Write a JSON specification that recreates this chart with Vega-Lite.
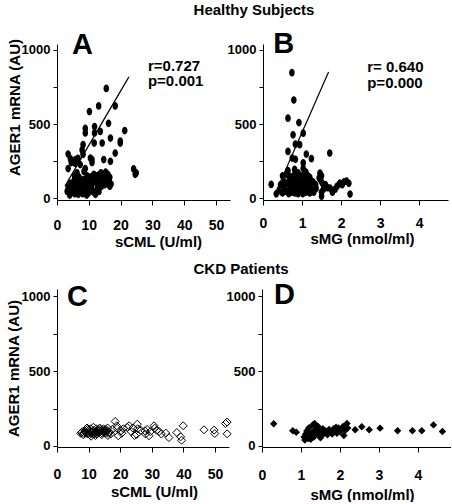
{
  "$schema": "https://vega.github.io/schema/vega-lite/v6.json",
  "padding": {"left": 6, "top": 2, "right": 0, "bottom": 0},
  "background": "white",
  "bounds": "flush",
  "spacing": 245,
  "datasets": {
    "A": [
      {"x":15.5,"y":740},{"x":13.1,"y":622},{"x":18.3,"y":622},{"x":10.2,"y":584},{"x":16.2,"y":505},{"x":8.9,"y":470},{"x":8.9,"y":440},{"x":11.8,"y":483},{"x":11.8,"y":440},{"x":13.6,"y":450},{"x":21.3,"y":456},{"x":16.8,"y":405},{"x":14.2,"y":371},{"x":19.9,"y":371},{"x":19.9,"y":385},{"x":11.7,"y":371},{"x":8.2,"y":360},{"x":7.9,"y":325},{"x":18.3,"y":304},{"x":3.5,"y":297},{"x":4.2,"y":266},{"x":5.8,"y":260},{"x":11.0,"y":260},{"x":14.7,"y":260},{"x":16.8,"y":248},{"x":7.3,"y":226},{"x":3.5,"y":199},{"x":8.9,"y":199},{"x":24.1,"y":197},{"x":24.9,"y":170},{"x":24.6,"y":160},{"x":10.5,"y":270},{"x":11.0,"y":240},{"x":4.5,"y":240},{"x":6.6,"y":268},{"x":5.7,"y":235},{"x":8.2,"y":295},
      {"x":3.2,"y":45},{"x":3.8,"y":60},{"x":4.3,"y":35},{"x":4.8,"y":70},{"x":5.2,"y":50},{"x":5.6,"y":30},{"x":6.0,"y":65},{"x":6.4,"y":45},{"x":6.9,"y":75},{"x":7.3,"y":40},{"x":7.7,"y":55},{"x":8.1,"y":30},{"x":8.6,"y":65},{"x":9.0,"y":45},{"x":9.5,"y":70},{"x":9.9,"y":35},{"x":10.4,"y":55},{"x":10.9,"y":75},{"x":11.5,"y":40},{"x":12.1,"y":25},{"x":12.6,"y":60},{"x":13.2,"y":45},{"x":3.5,"y":75},{"x":5.0,"y":85},{"x":8.3,"y":85},{"x":4.0,"y":20},{"x":6.7,"y":25},{"x":9.3,"y":20},{"x":7.0,"y":60},{"x":10.0,"y":60},
      {"x":4.2,"y":100},{"x":5.3,"y":115},{"x":6.2,"y":95},{"x":6.8,"y":120},{"x":7.5,"y":105},{"x":8.4,"y":125},{"x":9.2,"y":100},{"x":9.8,"y":115},{"x":10.6,"y":95},{"x":11.2,"y":120},{"x":11.9,"y":110},{"x":12.5,"y":130},{"x":13.3,"y":100},{"x":13.9,"y":125},{"x":14.6,"y":110},{"x":15.2,"y":130},{"x":15.8,"y":100},{"x":16.4,"y":120},{"x":17.0,"y":95},{"x":16.6,"y":80},{"x":14.0,"y":80},{"x":12.9,"y":85},{"x":15.0,"y":90},
      {"x":5.5,"y":150},{"x":6.3,"y":170},{"x":7.0,"y":140},{"x":9.5,"y":150},{"x":10.8,"y":145},{"x":11.6,"y":160},{"x":12.3,"y":150},{"x":13.1,"y":155},{"x":13.8,"y":170},{"x":14.5,"y":150},{"x":15.3,"y":175},{"x":16.0,"y":160},{"x":16.6,"y":140},{"x":8.5,"y":180}
    ],
    "B": [
      {"x":0.74,"y":846},{"x":0.79,"y":662},{"x":0.64,"y":539},{"x":0.92,"y":510},{"x":1.03,"y":438},{"x":0.77,"y":427},{"x":0.83,"y":364},{"x":0.94,"y":360},{"x":0.64,"y":315},{"x":1.11,"y":297},{"x":1.24,"y":266},{"x":1.71,"y":304},{"x":0.75,"y":270},{"x":0.83,"y":262},{"x":1.03,"y":237},{"x":0.81,"y":193},{"x":0.64,"y":186},{"x":1.03,"y":200},{"x":0.21,"y":92},{"x":0.34,"y":29},{"x":1.44,"y":136},{"x":1.46,"y":168},{"x":1.0,"y":150},{"x":0.9,"y":170},{"x":1.1,"y":175},
      {"x":0.42,"y":50},{"x":0.5,"y":35},{"x":0.55,"y":70},{"x":0.6,"y":45},{"x":0.66,"y":30},{"x":0.7,"y":60},{"x":0.74,"y":40},{"x":0.78,"y":75},{"x":0.82,"y":35},{"x":0.86,"y":55},{"x":0.9,"y":30},{"x":0.94,"y":65},{"x":0.98,"y":45},{"x":1.02,"y":30},{"x":1.06,"y":60},{"x":1.1,"y":40},{"x":1.15,"y":70},{"x":1.2,"y":35},{"x":1.25,"y":55},{"x":1.3,"y":40},{"x":1.36,"y":65},
      {"x":0.45,"y":90},{"x":0.55,"y":110},{"x":0.62,"y":95},{"x":0.68,"y":125},{"x":0.72,"y":100},{"x":0.78,"y":115},{"x":0.84,"y":90},{"x":0.88,"y":130},{"x":0.93,"y":105},{"x":0.97,"y":120},{"x":1.0,"y":90},{"x":1.05,"y":115},{"x":1.08,"y":135},{"x":1.12,"y":100},{"x":1.17,"y":120},{"x":1.22,"y":95},{"x":1.28,"y":110},{"x":1.35,"y":90},
      {"x":0.5,"y":150},{"x":0.6,"y":160},{"x":0.7,"y":145},{"x":0.8,"y":155},{"x":1.08,"y":165},{"x":1.15,"y":150},{"x":1.2,"y":140},
      {"x":1.5,"y":13},{"x":1.5,"y":40},{"x":1.55,"y":60},{"x":1.6,"y":90},{"x":1.65,"y":70},{"x":1.72,"y":67},{"x":1.78,"y":40},{"x":1.85,"y":60},{"x":1.9,"y":80},{"x":1.97,"y":101},{"x":2.03,"y":90},{"x":2.08,"y":110},{"x":2.14,"y":114},{"x":2.2,"y":100},{"x":2.23,"y":27},{"x":1.5,"y":150},{"x":1.48,"y":120},{"x":1.52,"y":100}
    ],
    "C": [
      {"x":7.5,"y":85},{"x":8,"y":95},{"x":8.3,"y":75},{"x":8.8,"y":100},{"x":9.2,"y":85},{"x":9.6,"y":110},{"x":10,"y":90},{"x":10.3,"y":75},{"x":10.6,"y":115},{"x":11,"y":95},{"x":11.3,"y":80},{"x":11.7,"y":105},{"x":12,"y":90},{"x":12.4,"y":115},{"x":12.7,"y":80},{"x":13,"y":100},{"x":13.4,"y":90},{"x":13.8,"y":110},{"x":14.1,"y":75},{"x":14.5,"y":95},{"x":14.9,"y":105},{"x":15.3,"y":85},{"x":15.7,"y":100},{"x":16.1,"y":70},{"x":16.5,"y":95},{"x":17,"y":80},{"x":9.5,"y":120},{"x":11.5,"y":125},{"x":13.5,"y":120},{"x":10.8,"y":65},{"x":12.2,"y":70},
      {"x":7.8,"y":90},{"x":8.5,"y":85},{"x":9,"y":95},{"x":9.8,"y":80},{"x":10.1,"y":105},{"x":10.9,"y":85},{"x":11.4,"y":95},{"x":11.9,"y":80},{"x":12.3,"y":100},{"x":12.9,"y":90},{"x":13.2,"y":110},{"x":13.7,"y":95},{"x":14.3,"y":85},{"x":14.7,"y":115},{"x":15.1,"y":95},{"x":15.5,"y":110},{"x":16.3,"y":85},{"x":10.4,"y":95},{"x":12.6,"y":95},{"x":14,"y":100},
      {"x":18.4,"y":164},{"x":18.9,"y":135},{"x":20.2,"y":101},{"x":19.4,"y":68},{"x":22.2,"y":124},{"x":22.8,"y":135},{"x":25.4,"y":146},{"x":25.5,"y":115},{"x":25.2,"y":77},{"x":29.1,"y":68},{"x":27.8,"y":101},{"x":30.7,"y":135},{"x":30.9,"y":119},{"x":32.3,"y":97},{"x":34.4,"y":86},{"x":35.4,"y":56},{"x":37.9,"y":90},{"x":39.9,"y":135},{"x":39.1,"y":61},{"x":39.4,"y":38},{"x":46.5,"y":108},{"x":49.7,"y":106},{"x":49.9,"y":83},{"x":53.8,"y":160},{"x":53.3,"y":150},{"x":53.8,"y":81},
      {"x":17.5,"y":110},{"x":21,"y":115},{"x":23.5,"y":95},{"x":24,"y":120},{"x":26.5,"y":105},{"x":28.5,"y":110},{"x":29.5,"y":95},{"x":31.5,"y":105},{"x":33,"y":80},{"x":20.5,"y":85},{"x":24.5,"y":70},{"x":28,"y":80},{"x":16,"y":120},{"x":19,"y":118}
    ],
    "D": [
      {"x":0.30,"y":149},{"x":0.79,"y":102},{"x":0.88,"y":92},
      {"x":1.08,"y":60},{"x":1.12,"y":80},{"x":1.15,"y":100},{"x":1.18,"y":50},{"x":1.2,"y":120},{"x":1.24,"y":70},{"x":1.28,"y":90},{"x":1.3,"y":140},{"x":1.33,"y":60},{"x":1.37,"y":110},{"x":1.4,"y":80},{"x":1.44,"y":130},{"x":1.48,"y":95},{"x":1.52,"y":70},{"x":1.56,"y":115},{"x":1.6,"y":85},{"x":1.64,"y":100},{"x":1.68,"y":75},{"x":1.72,"y":110},{"x":1.76,"y":95},{"x":1.8,"y":80},{"x":1.84,"y":115},{"x":1.88,"y":100},{"x":1.92,"y":85},{"x":1.96,"y":120},{"x":2.0,"y":95},{"x":2.04,"y":110},{"x":2.08,"y":130},{"x":2.1,"y":70},{"x":2.14,"y":105},{"x":2.18,"y":150},{"x":2.2,"y":120},{"x":1.1,"y":40},{"x":1.25,"y":45},{"x":1.5,"y":55},{"x":1.35,"y":150},{"x":1.9,"y":125},
      {"x":2.39,"y":108},{"x":2.56,"y":128},{"x":2.75,"y":108},{"x":3.03,"y":119},{"x":3.48,"y":102},{"x":3.86,"y":102},{"x":4.1,"y":102},{"x":4.4,"y":141},{"x":4.63,"y":97}
    ]
  },
  "vconcat": [
    {
      "title": {"text": "Healthy Subjects", "anchor": "middle", "frame": "group", "baseline": "alphabetic", "offset": 0, "dx": 197},
      "bounds": "flush",
      "spacing": 33,
      "hconcat": [
        {
          "width": 173, "height": 156,
          "encoding": {
            "x": {"field": "x", "type": "quantitative", "scale": {"domain": [0, 54.4], "nice": false, "zero": false},
              "axis": {"title": "sCML (U/ml)", "values": [0,10,20,30,40,50], "tickSize": 5, "labelPadding": 13, "labelFontSize": 14, "titleX": 101, "titleY": 41, "titleBaseline": "middle"}},
            "y": {"field": "y", "type": "quantitative", "scale": {"domain": [-13, 1040], "nice": false, "zero": false},
              "axis": {"title": "AGER1 mRNA (AU)", "values": [0,250,500,750,1000], "format": "d", "labelExpr": "datum.value % 500 == 0 ? datum.label : ''", "tickSize": 4, "labelPadding": 3, "titleX": -43, "titleY": 63, "titleBaseline": "middle"}}
          },
          "layer": [
            {"data": {"name": "A"}, "mark": {"type": "point", "shape": "M0,-1A0.72,1,0,1,1,0,1A0.72,1,0,1,1,0,-1Z", "filled": true, "color": "black", "opacity": 1, "size": 60}},
            {"data": {"values": [{"x": 2.5, "y": 81}, {"x": 22.6, "y": 818}]}, "mark": {"type": "line", "color": "black", "strokeWidth": 1.2}},
            {"data": {"values": [{"x": 4.7, "y": 973, "t": "A"}]}, "mark": {"type": "text", "align": "left", "baseline": "alphabetic", "fontSize": 29, "fontWeight": "bold", "color": "black"}, "encoding": {"text": {"field": "t"}}},
            {"data": {"values": [{"x": 28.6, "y": 858, "t": "r=0.727\np=0.001"}]}, "mark": {"type": "text", "align": "left", "baseline": "alphabetic", "lineBreak": "\n", "lineHeight": 15.5, "fontSize": 15, "fontWeight": "bold", "color": "black"}, "encoding": {"text": {"field": "t"}}}
          ]
        },
        {
          "width": 185, "height": 156,
          "encoding": {
            "x": {"field": "x", "type": "quantitative", "scale": {"domain": [0, 4.74], "nice": false, "zero": false},
              "axis": {"title": "sMG (nmol/ml)", "values": [0,1,2,3,4], "tickSize": 5, "labelPadding": 11, "labelFontSize": 14, "titleX": 99, "titleY": 38, "titleBaseline": "middle"}},
            "y": {"field": "y", "type": "quantitative", "scale": {"domain": [-13, 1040], "nice": false, "zero": false},
              "axis": {"title": null, "values": [0,250,500,750,1000], "format": "d", "labelExpr": "datum.value % 500 == 0 ? datum.label : ''", "tickSize": 4, "labelPadding": 3}}
          },
          "layer": [
            {"data": {"name": "B"}, "mark": {"type": "point", "shape": "M0,-1A0.72,1,0,1,1,0,1A0.72,1,0,1,1,0,-1Z", "filled": true, "color": "black", "opacity": 1, "size": 60}},
            {"data": {"values": [{"x": 0.32, "y": 34}, {"x": 1.68, "y": 851}]}, "mark": {"type": "line", "color": "black", "strokeWidth": 1.2}},
            {"data": {"values": [{"x": 0.26, "y": 980, "t": "B"}]}, "mark": {"type": "text", "align": "left", "baseline": "alphabetic", "fontSize": 29, "fontWeight": "bold", "color": "black"}, "encoding": {"text": {"field": "t"}}},
            {"data": {"values": [{"x": 2.67, "y": 851, "t": "r= 0.640\np=0.000"}]}, "mark": {"type": "text", "align": "left", "baseline": "alphabetic", "lineBreak": "\n", "lineHeight": 15.5, "fontSize": 15, "fontWeight": "bold", "color": "black"}, "encoding": {"text": {"field": "t"}}}
          ]
        }
      ]
    },
    {
      "title": {"text": "CKD Patients", "anchor": "middle", "frame": "group", "baseline": "alphabetic", "offset": -8, "dx": 184},
      "bounds": "flush",
      "spacing": 33,
      "hconcat": [
        {
          "width": 172, "height": 158,
          "encoding": {
            "x": {"field": "x", "type": "quantitative", "scale": {"domain": [0, 54.4], "nice": false, "zero": false},
              "axis": {"title": "sCML (U/ml)", "values": [0,10,20,30,40,50], "tickSize": 5, "labelPadding": 15, "labelFontSize": 14, "titleX": 97, "titleY": 44, "titleBaseline": "middle"}},
            "y": {"field": "y", "type": "quantitative", "scale": {"domain": [-7, 1050], "nice": false, "zero": false},
              "axis": {"title": "AGER1 mRNA (AU)", "values": [0,250,500,750,1000], "format": "d", "labelExpr": "datum.value % 500 == 0 ? datum.label : ''", "tickSize": 4, "labelPadding": 3, "titleX": -44, "titleBaseline": "middle"}}
          },
          "layer": [
            {"data": {"name": "C"}, "mark": {"type": "point", "shape": "diamond", "filled": false, "stroke": "black", "strokeWidth": 1, "opacity": 1, "size": 64}},
            {"data": {"values": [{"x": 3.2, "y": 936, "t": "C"}]}, "mark": {"type": "text", "align": "left", "baseline": "alphabetic", "fontSize": 29, "fontWeight": "bold", "color": "black"}, "encoding": {"text": {"field": "t"}}}
          ]
        },
        {
          "width": 189, "height": 158,
          "encoding": {
            "x": {"field": "x", "type": "quantitative", "scale": {"domain": [0, 4.85], "nice": false, "zero": false},
              "axis": {"title": "sMG (nmol/ml)", "values": [0,1,2,3,4], "tickSize": 5, "labelPadding": 16, "labelFontSize": 14, "titleX": 100, "titleY": 47, "titleBaseline": "middle"}},
            "y": {"field": "y", "type": "quantitative", "scale": {"domain": [-7, 1050], "nice": false, "zero": false},
              "axis": {"title": null, "values": [0,250,500,750,1000], "format": "d", "labelExpr": "datum.value % 500 == 0 ? datum.label : ''", "tickSize": 4, "labelPadding": 3}}
          },
          "layer": [
            {"data": {"name": "D"}, "mark": {"type": "point", "shape": "diamond", "filled": true, "color": "black", "opacity": 1, "size": 55}},
            {"data": {"values": [{"x": 0.31, "y": 950, "t": "D"}]}, "mark": {"type": "text", "align": "left", "baseline": "alphabetic", "fontSize": 29, "fontWeight": "bold", "color": "black"}, "encoding": {"text": {"field": "t"}}}
          ]
        }
      ]
    }
  ],
  "config": {
    "view": {"stroke": null},
    "axis": {"grid": false, "domainColor": "black", "tickColor": "black", "labelColor": "black", "titleColor": "black", "labelFont": "Liberation Sans", "titleFont": "Liberation Sans", "labelFontWeight": "bold", "titleFontWeight": "bold", "labelFontSize": 13, "titleFontSize": 15, "labelFlush": false, "labelOverlap": false, "domainWidth": 1, "tickWidth": 1},
    "title": {"font": "Liberation Sans", "fontWeight": "bold", "fontSize": 15, "color": "black"},
    "text": {"font": "Liberation Sans"}
  }
}
